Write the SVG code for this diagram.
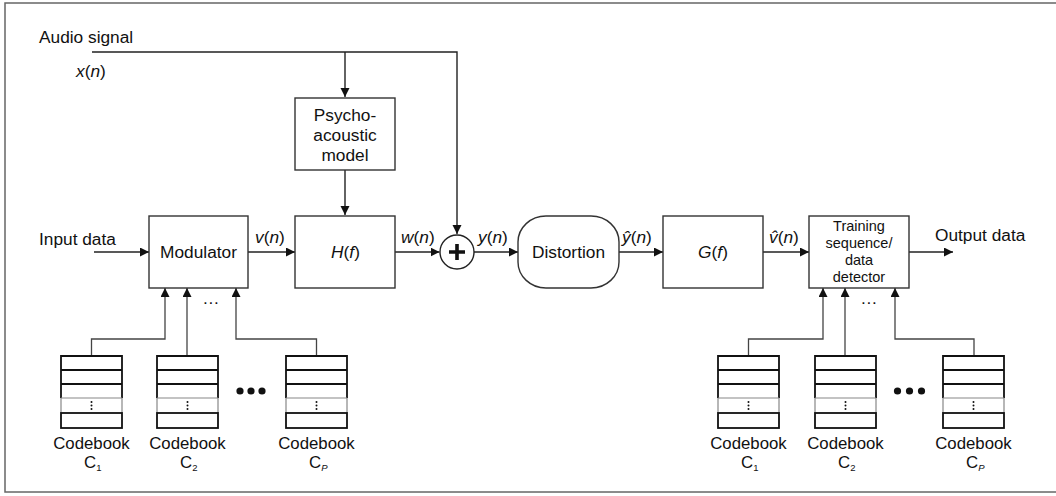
<svg xmlns="http://www.w3.org/2000/svg" width="1056" height="496" viewBox="0 0 1056 496">
  <style>
    text { font-family: "Liberation Sans", Arial, sans-serif; fill: #111; }
    .lbl { font-size: 17.3px; }
    .cb { font-size: 16.8px; }
    .mid { text-anchor: middle; }
    .sm { font-size: 14.5px; }
    .sub { font-size: 9.5px; }
    .box { fill: #fff; stroke: #333; stroke-width: 1.4; }
    .wire { fill: none; stroke: #222; stroke-width: 1.4; }
    .feed { fill: none; stroke: #444; stroke-width: 1.3; }
    .cbk { fill: none; stroke: #111; stroke-width: 1.8; }
    .cbg { fill: none; stroke: #888; stroke-width: 1.2; }
    .dot { fill: #111; }
  </style>
  <defs>
    <marker id="arrow" markerUnits="userSpaceOnUse" markerWidth="10" markerHeight="10" refX="9" refY="4.5" orient="auto">
      <path d="M0,0 L9,4.5 L0,9 Z" fill="#111"/>
    </marker>
    <!-- codebook table: three rows, an ellipsis row, one final row -->
    <symbol id="codebook" overflow="visible">
      <path class="cbk" d="M0,42 V0 H61 V42 M0,14 H61 M0,28 H61"/>
      <path class="cbg" d="M0,42 H61 M0,42 V57 M61,42 V57"/>
      <rect class="cbk" x="0" y="57" width="61" height="15"/>
      <circle class="dot" cx="30.5" cy="46" r="1"/>
      <circle class="dot" cx="30.5" cy="49.5" r="1"/>
      <circle class="dot" cx="30.5" cy="53" r="1"/>
    </symbol>
  </defs>

  <!-- frame -->
  <rect x="5" y="3" width="1060" height="489" fill="#fff" stroke="#666" stroke-width="1.5"/>

  <!-- free labels -->
  <g id="audio-label">
    <text class="lbl" x="39" y="43">Audio signal</text>
    <text class="lbl" x="76" y="77"><tspan font-style="italic">x</tspan>(<tspan font-style="italic">n</tspan>)</text>
  </g>
  <g id="input-label"><text class="lbl" x="39" y="245">Input data</text></g>
  <g id="output-label"><text class="lbl" x="935" y="241">Output data</text></g>

  <!-- connectors -->
  <g id="connectors">
    <path class="wire" d="M92,52 H457 V234" marker-end="url(#arrow)"/>
    <path class="wire" d="M345,52 V97" marker-end="url(#arrow)"/>
    <path class="wire" d="M345,170 V215" marker-end="url(#arrow)"/>
    <path class="wire" d="M94,252 H149" marker-end="url(#arrow)"/>
    <path class="wire" d="M248,252 H295" marker-end="url(#arrow)"/>
    <path class="wire" d="M395,252 H439.5" marker-end="url(#arrow)"/>
    <path class="wire" d="M474,252 H518" marker-end="url(#arrow)"/>
    <path class="wire" d="M619,252 H663" marker-end="url(#arrow)"/>
    <path class="wire" d="M763,252 H809" marker-end="url(#arrow)"/>
    <path class="wire" d="M909,252 H953" marker-end="url(#arrow)"/>
    <!-- codebooks to modulator -->
    <path class="feed" d="M91.5,356 V339 H165 V288" marker-end="url(#arrow)"/>
    <path class="feed" d="M187,356 V288" marker-end="url(#arrow)"/>
    <path class="feed" d="M316.5,356 V339 H236 V288" marker-end="url(#arrow)"/>
    <!-- codebooks to detector -->
    <path class="feed" d="M748.5,356 V339 H823 V288" marker-end="url(#arrow)"/>
    <path class="feed" d="M845,356 V288" marker-end="url(#arrow)"/>
    <path class="feed" d="M974,356 V339 H895 V288" marker-end="url(#arrow)"/>
    <!-- wire labels -->
    <text class="lbl" x="255" y="243"><tspan font-style="italic">v</tspan>(<tspan font-style="italic">n</tspan>)</text>
    <text class="lbl" x="401" y="243"><tspan font-style="italic">w</tspan>(<tspan font-style="italic">n</tspan>)</text>
    <text class="lbl" x="478" y="243"><tspan font-style="italic">y</tspan>(<tspan font-style="italic">n</tspan>)</text>
    <text class="lbl" x="622" y="243"><tspan font-style="italic">ŷ</tspan>(<tspan font-style="italic">n</tspan>)</text>
    <text class="lbl" x="769" y="243"><tspan font-style="italic">v̂</tspan>(<tspan font-style="italic">n</tspan>)</text>
    <text class="lbl mid" x="211" y="304">…</text>
    <text class="lbl mid" x="869" y="304">…</text>
  </g>

  <g id="psychoacoustic">
    <rect class="box" x="295" y="98" width="100" height="72"/>
    <text class="lbl mid" x="345" y="121">Psycho-</text>
    <text class="lbl mid" x="345" y="141">acoustic</text>
    <text class="lbl mid" x="345" y="161">model</text>
  </g>

  <g id="modulator">
    <rect class="box" x="149" y="216" width="99" height="72"/>
    <text class="lbl mid" x="198.5" y="258">Modulator</text>
  </g>

  <g id="hf">
    <rect class="box" x="295" y="216" width="100" height="72"/>
    <text class="lbl mid" x="345.5" y="258"><tspan font-style="italic">H</tspan>(<tspan font-style="italic">f</tspan>)</text>
  </g>

  <g id="adder">
    <circle cx="457" cy="252" r="17" fill="#fff" stroke="#222" stroke-width="1.4"/>
    <path d="M449,252 H465 M457,244 V260" stroke="#111" stroke-width="3.6"/>
  </g>

  <g id="distortion">
    <rect class="box" x="518" y="216" width="101" height="72" rx="28" ry="26"/>
    <text class="lbl mid" x="568.5" y="258">Distortion</text>
  </g>

  <g id="gf">
    <rect class="box" x="663" y="216" width="100" height="72"/>
    <text class="lbl mid" x="713" y="258"><tspan font-style="italic">G</tspan>(<tspan font-style="italic">f</tspan>)</text>
  </g>

  <g id="detector">
    <rect class="box" x="809" y="216" width="100" height="72"/>
    <text class="sm mid" x="859" y="231">Training</text>
    <text class="sm mid" x="859" y="248">sequence/</text>
    <text class="sm mid" x="859" y="265">data</text>
    <text class="sm mid" x="859" y="282">detector</text>
  </g>

  <!-- transmitter codebooks -->
  <g id="tx-codebook-1">
    <use href="#codebook" x="61" y="356"/>
    <text class="cb mid" x="91.5" y="449">Codebook</text>
    <text class="cb" x="84" y="468">C<tspan class="sub" dy="3">1</tspan></text>
  </g>
  <g id="tx-codebook-2">
    <use href="#codebook" x="157" y="356"/>
    <text class="cb mid" x="187.5" y="449">Codebook</text>
    <text class="cb" x="180" y="468">C<tspan class="sub" dy="3">2</tspan></text>
  </g>
  <g id="tx-codebook-dots">
    <circle class="dot" cx="240" cy="391" r="3.6"/>
    <circle class="dot" cx="251" cy="391" r="3.6"/>
    <circle class="dot" cx="262" cy="391" r="3.6"/>
  </g>
  <g id="tx-codebook-p">
    <use href="#codebook" x="286" y="356"/>
    <text class="cb mid" x="316.5" y="449">Codebook</text>
    <text class="cb" x="309" y="468">C<tspan class="sub" dy="3" font-style="italic">P</tspan></text>
  </g>

  <!-- receiver codebooks -->
  <g id="rx-codebook-1">
    <use href="#codebook" x="718" y="356"/>
    <text class="cb mid" x="748.5" y="449">Codebook</text>
    <text class="cb" x="741" y="468">C<tspan class="sub" dy="3">1</tspan></text>
  </g>
  <g id="rx-codebook-2">
    <use href="#codebook" x="815" y="356"/>
    <text class="cb mid" x="845.5" y="449">Codebook</text>
    <text class="cb" x="838" y="468">C<tspan class="sub" dy="3">2</tspan></text>
  </g>
  <g id="rx-codebook-dots">
    <circle class="dot" cx="897.5" cy="391" r="3.6"/>
    <circle class="dot" cx="909.5" cy="391" r="3.6"/>
    <circle class="dot" cx="921.5" cy="391" r="3.6"/>
  </g>
  <g id="rx-codebook-p">
    <use href="#codebook" x="943" y="356"/>
    <text class="cb mid" x="973.5" y="449">Codebook</text>
    <text class="cb" x="966" y="468">C<tspan class="sub" dy="3" font-style="italic">P</tspan></text>
  </g>
</svg>
